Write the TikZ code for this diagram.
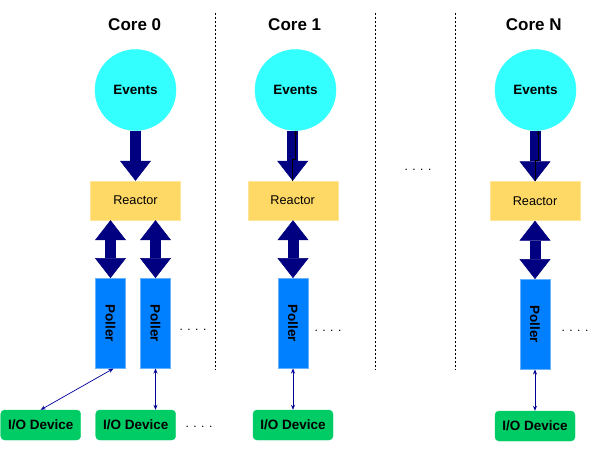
\documentclass[tikz,border=0pt]{standalone}
\usepackage{graphicx}
\usepackage{fontspec}
\setmainfont{Liberation Sans}
\usetikzlibrary{arrows.meta,positioning}

\definecolor{evcyan}{RGB}{51,255,255}
\definecolor{reyellow}{RGB}{255,217,102}
\definecolor{reborder}{RGB}{255,229,153}
\definecolor{poblue}{RGB}{0,127,255}
\definecolor{poborder}{RGB}{102,178,255}
\definecolor{iogreen}{RGB}{0,204,102}
\definecolor{navy}{RGB}{0,0,128}
\definecolor{linkblue}{RGB}{0,0,153}

\tikzset{Big/.tip={Triangle[width=31pt,length=20pt,line width=0.5pt]}}

\begin{document}
\begin{tikzpicture}[x=1pt,y=-1pt,
  every node/.style={inner sep=0pt,font=\fontsize{13.5}{15}\selectfont\bfseries},
  corelabel/.style={font=\fontsize{17}{19}\selectfont\bfseries},
  events/.style={circle,fill=evcyan,draw=evcyan,minimum size=81pt},
  reactor/.style={rectangle,fill=reyellow,draw=reborder,minimum width=90pt,minimum height=39pt,font=\fontsize{12.7}{14}\selectfont},
  poller/.style={rectangle,fill=poblue,draw=poborder,minimum width=30pt,minimum height=90pt},
  device/.style={rectangle,rounded corners=4pt,fill=iogreen,draw=iogreen,minimum width=80pt,minimum height=30pt},
  more/.style={font=\fontsize{12}{14}\selectfont},
  bigarrow/.style={draw=navy,line width=11pt,-Big},
  bigboth/.style={draw=navy,line width=11pt,Big-Big},
  link/.style={draw=linkblue,line width=0.7pt,{Stealth[length=5pt,width=4pt]}-{Stealth[length=5pt,width=4pt]}},
  stray/.style={draw=black,line width=0.5pt,-{Stealth[length=4pt,width=3pt]}},
  sep/.style={draw,dash pattern=on 2pt off 2pt,line width=0.7pt}]

  \useasboundingbox (0,0) rectangle (595,449);

  % Core 0
  \node[corelabel] (core0) at (134.7,25) {Core 0};
  \node[events] (ev0) at (135.5,90) {Events};
  \node[reactor] (re0) at (135.5,200.5) {Reactor};
  \node[poller] (po0a) at (110.5,323.3) {\rotatebox{-90}{Poller}};
  \node[poller] (po0b) at (155.5,323.3) {\rotatebox{-90}{Poller}};
  \node[device] (io0a) at (40.7,425) {I/O Device};
  \node[device] (io0b) at (135.7,425) {I/O Device};
  \node[more] (dots0a) at (193,330) {. . . .};
  \node[more] (dots0b) at (199,426.7) {. . . .};

  % Core 1
  \node[corelabel] (core1) at (294.7,25) {Core 1};
  \node[events] (ev1) at (295.5,90) {Events};
  \node[reactor] (re1) at (292.7,200.5) {Reactor};
  \node[poller] (po1) at (293,323.3) {\rotatebox{-90}{Poller}};
  \node[device] (io1) at (293,425) {I/O Device};
  \node[more] (dots1) at (328,330.7) {. . . .};

  % Core N
  \node[corelabel] (coreN) at (533.8,25) {Core N};
  \node[events] (evN) at (535.5,90) {Events};
  \node[reactor] (reN) at (535,201) {Reactor};
  \node[poller] (poN) at (535,324.3) {\rotatebox{-90}{Poller}};
  \node[device] (ioN) at (535,426) {I/O Device};
  \node[more] (dotsN) at (575,330.7) {. . . .};

  \node[more] (dotsmid) at (418,170) {. . . .};

  % separators
  \draw[sep] (215.3,13) -- (215.3,370);
  \draw[sep] (375.3,13) -- (375.3,370);
  \draw[sep] (455.7,13) -- (455.7,370);

  % events to reactor
  \draw[bigarrow] (ev0.south -| re0.north) -- (re0.north);
  \draw[bigarrow] (ev1.south -| re1.north) -- (re1.north);
  \draw[bigarrow] (evN.south -| reN.north) -- (reN.north);
  \draw[stray] (re1.north) -- ++(0,-22) -| (ev1.south);
  \draw[stray] (reN.north) -- ++(0,-21) -| ([xshift=3pt]evN.south);

  % reactor to pollers
  \draw[bigboth] (re0.south -| po0a.north) -- (po0a.north);
  \draw[bigboth] (re0.south -| po0b.north) -- (po0b.north);
  \draw[bigboth] (re1.south -| po1.north) -- (po1.north);
  \draw[bigboth] (reN.south -| poN.north) -- (poN.north);

  % pollers to devices
  \draw[link] ([xshift=3pt]po0a.south) -- (io0a.north);
  \draw[link] (po0b.south) -- (po0b.south |- io0b.north);
  \draw[link] (po1.south) -- (io1.north);
  \draw[link] (poN.south) -- (ioN.north);
\end{tikzpicture}
\end{document}
